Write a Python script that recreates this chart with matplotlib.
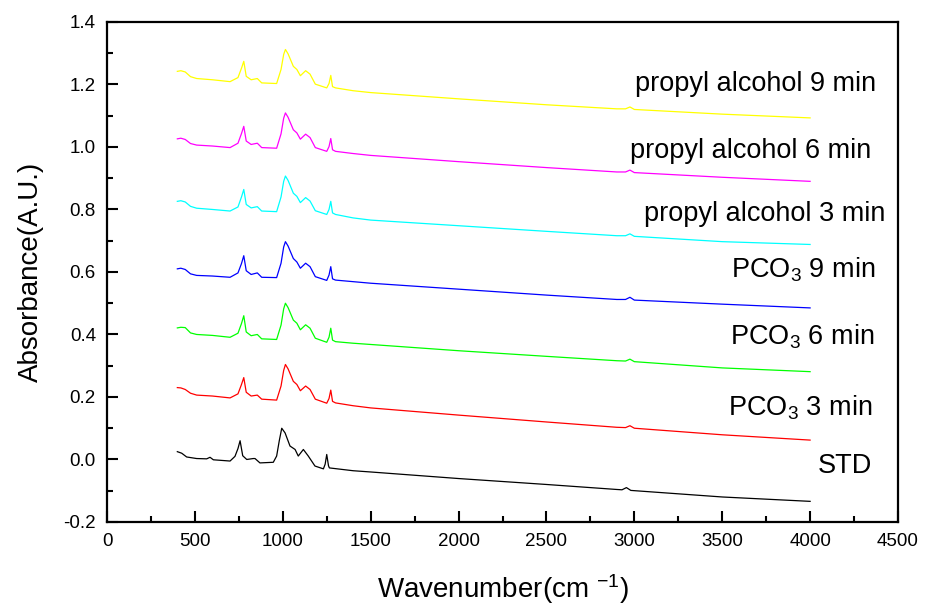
import numpy as np
import matplotlib
matplotlib.use('Agg')
import matplotlib.pyplot as plt
from matplotlib.ticker import MultipleLocator

plt.rcParams['font.family'] = ['Liberation Sans', 'DejaVu Sans']
plt.rcParams['mathtext.fontset'] = 'custom'
plt.rcParams['mathtext.rm'] = 'Liberation Sans'
plt.rcParams['mathtext.default'] = 'regular'

# wavenumber grid of the treated samples (cm^-1)
wn_sample = [400, 420, 445, 475, 510, 600, 700, 745, 765, 778, 792, 820, 855, 880,
             965, 990, 1005, 1015, 1030, 1060, 1080, 1100, 1130, 1155, 1185, 1250,
             1263, 1273, 1283, 1300, 1400, 1500, 2000, 2500, 2900, 2950, 2975, 3000,
             3500, 4000]

# untreated standard, own grid (bands sit ~20 cm^-1 lower)
wn_std = [400, 425, 453, 510, 567, 586, 605, 700, 728, 745, 757, 772, 795, 832, 842,
          870, 946, 965, 980, 994, 1013, 1041, 1070, 1088, 1117, 1145, 1183, 1231,
          1241, 1250, 1260, 1265, 1400, 1500, 2000, 2500, 2900, 2930, 2955, 2980,
          3500, 4000]
abs_std = [0.025, 0.020, 0.008, 0.003, 0.002, 0.007, -0.001, -0.005, 0.010, 0.035,
           0.060, 0.012, 0.000, 0.003, 0.003, -0.011, -0.009, 0.011, 0.060, 0.100,
           0.085, 0.043, 0.032, 0.011, 0.032, 0.011, -0.021, -0.030, -0.015, 0.016,
           -0.020, -0.027, -0.036, -0.040, -0.061, -0.080, -0.096, -0.097, -0.090,
           -0.099, -0.120, -0.134]

abs_pco3_3 = [0.230, 0.229, 0.224, 0.212, 0.206, 0.203, 0.197, 0.210, 0.240, 0.262,
              0.215, 0.203, 0.206, 0.193, 0.190, 0.235, 0.285, 0.304, 0.290, 0.250,
              0.240, 0.220, 0.235, 0.224, 0.193, 0.180, 0.195, 0.222, 0.186, 0.181,
              0.172, 0.165, 0.142, 0.120, 0.103, 0.102, 0.108, 0.100, 0.079, 0.062]
abs_pco3_6 = [0.421, 0.423, 0.422, 0.405, 0.400, 0.397, 0.391, 0.404, 0.435, 0.460,
              0.408, 0.396, 0.400, 0.386, 0.384, 0.430, 0.482, 0.500, 0.486, 0.446,
              0.436, 0.415, 0.431, 0.420, 0.388, 0.375, 0.391, 0.420, 0.382, 0.377,
              0.372, 0.368, 0.348, 0.330, 0.316, 0.315, 0.321, 0.313, 0.293, 0.281]
abs_pco3_9 = [0.610, 0.612, 0.608, 0.594, 0.589, 0.587, 0.583, 0.597, 0.627, 0.652,
              0.604, 0.592, 0.597, 0.583, 0.582, 0.628, 0.680, 0.697, 0.683, 0.643,
              0.632, 0.612, 0.628, 0.617, 0.585, 0.573, 0.590, 0.617, 0.578, 0.574,
              0.569, 0.564, 0.545, 0.526, 0.512, 0.512, 0.519, 0.510, 0.497, 0.485]
abs_prop_3 = [0.826, 0.828, 0.824, 0.810, 0.804, 0.800, 0.795, 0.808, 0.840, 0.864,
              0.816, 0.805, 0.809, 0.795, 0.793, 0.840, 0.890, 0.907, 0.893, 0.852,
              0.842, 0.822, 0.838, 0.827, 0.796, 0.784, 0.800, 0.826, 0.789, 0.784,
              0.773, 0.766, 0.748, 0.730, 0.716, 0.716, 0.722, 0.714, 0.697, 0.688]
abs_prop_6 = [1.026, 1.028, 1.024, 1.011, 1.006, 1.003, 0.998, 1.012, 1.043, 1.066,
              1.019, 1.008, 1.012, 0.998, 0.996, 1.042, 1.092, 1.109, 1.095, 1.055,
              1.045, 1.025, 1.041, 1.030, 0.998, 0.986, 1.001, 1.027, 0.991, 0.986,
              0.979, 0.973, 0.953, 0.934, 0.920, 0.920, 0.926, 0.918, 0.903, 0.890]
abs_prop_9 = [1.242, 1.244, 1.240, 1.225, 1.219, 1.215, 1.209, 1.222, 1.252, 1.274,
              1.226, 1.215, 1.219, 1.205, 1.203, 1.248, 1.296, 1.312, 1.298, 1.258,
              1.248, 1.228, 1.244, 1.233, 1.201, 1.189, 1.203, 1.229, 1.193, 1.189,
              1.180, 1.174, 1.154, 1.135, 1.122, 1.122, 1.128, 1.120, 1.105, 1.093]

labels = ['STD', 'PCO$_3$ 3 min', 'PCO$_3$ 6 min', 'PCO$_3$ 9 min',
          'propyl alcohol 3 min', 'propyl alcohol 6 min', 'propyl alcohol 9 min']
label_x = [4352, 4352, 4363, 4369, 4426, 4346, 4375]
label_y = [-0.022, 0.166, 0.394, 0.608, 0.787, 0.986, 1.200]

fig = plt.figure(figsize=(9.25, 6.1), dpi=100)
ax = fig.add_axes([0.1157, 0.1443, 0.8551, 0.8197])

series = [
    (wn_std, abs_std, 'black'),
    (wn_sample, abs_pco3_3, '#ff0000'),
    (wn_sample, abs_pco3_6, '#00ff00'),
    (wn_sample, abs_pco3_9, '#0000ff'),
    (wn_sample, abs_prop_3, '#00ffff'),
    (wn_sample, abs_prop_6, '#ff00ff'),
    (wn_sample, abs_prop_9, '#ffff00'),
]
for wn, a, c in series:
    ax.plot(wn, a, color=c, lw=0.9)

for txt, x, y in zip(labels, label_x, label_y):
    ax.text(x, y, txt, ha='right', va='center', fontsize=19.5)

ax.set_xlim(0, 4500)
ax.set_ylim(-0.2, 1.4)
ax.xaxis.set_major_locator(MultipleLocator(500))
ax.xaxis.set_minor_locator(MultipleLocator(250))
ax.yaxis.set_major_locator(MultipleLocator(0.2))
ax.yaxis.set_minor_locator(MultipleLocator(0.1))
ax.yaxis.set_major_formatter(plt.FuncFormatter(lambda v, p: f'{v:.1f}'))

ax.tick_params(which='both', direction='in', top=False, right=False, width=1.5,
               labelsize=13.5)
ax.tick_params(which='major', length=8, pad=8)
ax.tick_params(which='minor', length=4)
for s in ax.spines.values():
    s.set_linewidth(1.6)

ax.set_xlabel('Wavenumber(cm $^{-1}$)', fontsize=20, labelpad=16)
ax.set_ylabel('Absorbance(A.U.)', fontsize=20, labelpad=14)

fig.savefig('out.png', dpi=100)
